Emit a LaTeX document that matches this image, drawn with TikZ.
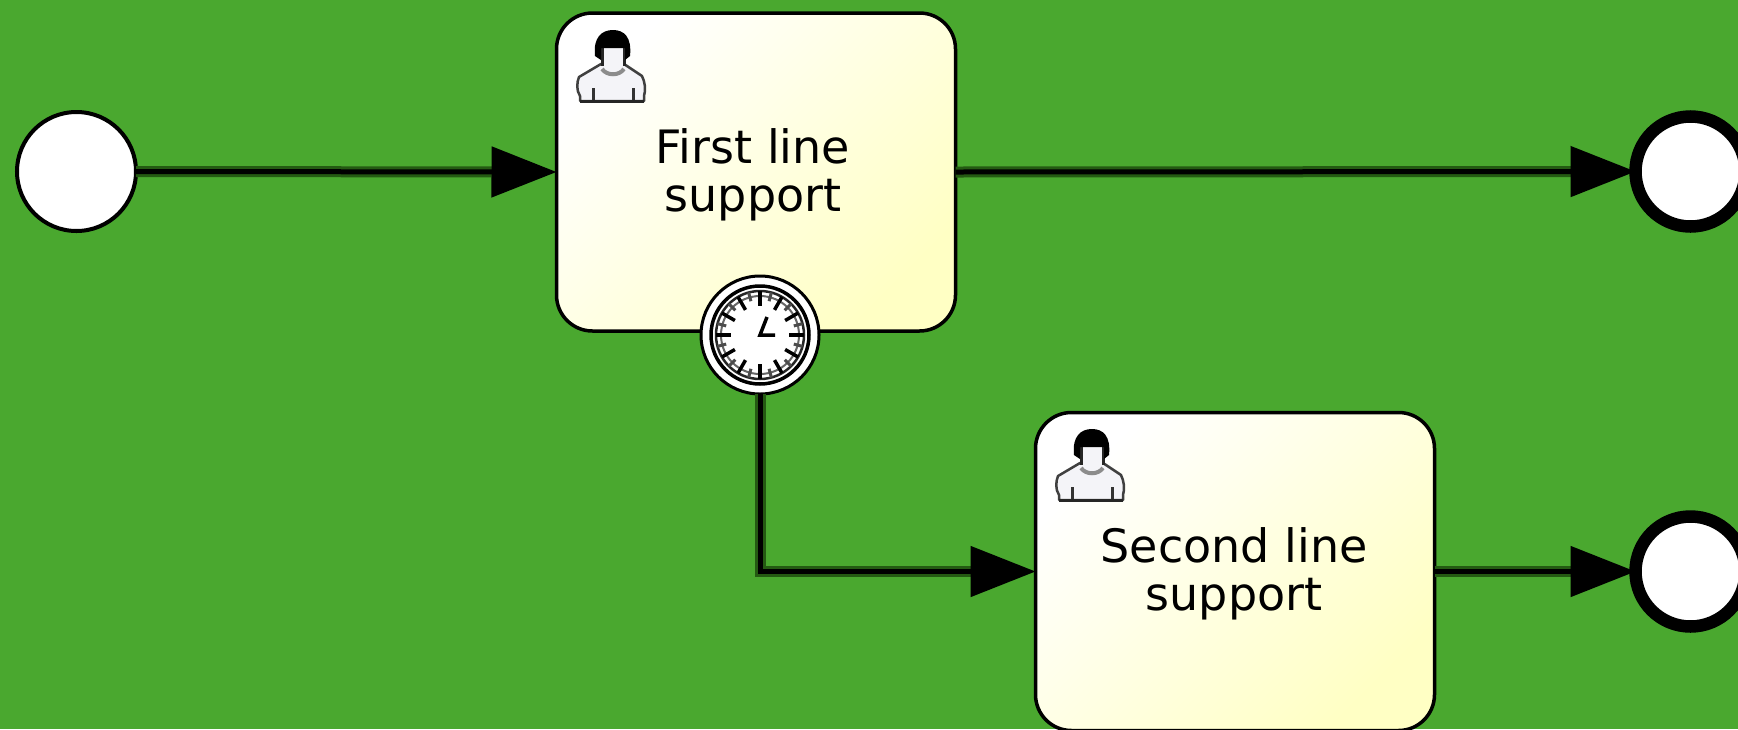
\documentclass[tikz,border=0pt]{standalone}
\usepackage{fontspec}
\setmainfont{DejaVu Sans}
\usetikzlibrary{arrows.meta}
\definecolor{bggreen}{HTML}{4AA82F}
\definecolor{taskyellow}{HTML}{FFFFC4}
\definecolor{iconfill}{HTML}{F4F4F8}
\definecolor{halogreen}{HTML}{245A12}
\tikzset{
  x=1pt,y=-1pt,
  task/.style={draw=black,line width=3.5pt,rounded corners=36pt,minimum width=399pt,minimum height=318pt,inner sep=0pt,outer sep=0pt,left color=white,right color=taskyellow,shading angle=45},
  startev/.style={circle,draw=black,line width=4pt,fill=white,minimum size=119pt,inner sep=0pt,outer sep=0pt},
  endev/.style={circle,draw=black,line width=12.5pt,fill=white,minimum size=110pt,inner sep=0pt,outer sep=0pt},
  timerev/.style={circle,draw=black,line width=3pt,fill=white,minimum size=118pt,inner sep=0pt,outer sep=0pt},
  flow/.style={draw=black,line width=5pt,-{Triangle[length=65pt,width=50pt]},
    preaction={draw=halogreen,line width=11pt,-,shorten >=40pt}},
  tasklabel/.style={font=\fontsize{46pt}{48pt}\selectfont,align=center,text=black,inner sep=0pt},
  pics/person/.style={code={
    \path[draw=black!75,line width=2.5pt,fill=iconfill,line join=round]
      (5,71) -- (5,66) .. controls (1,60) and (2,52) .. (4,47) -- (26,34) -- (49,34) -- (67,46) .. controls (70,52) and (71,60) .. (69,66) -- (69,71) -- cycle;
    \draw[black!80,line width=3pt] (18,58) -- (18,71) (58,58) -- (58,71);
    \fill[iconfill] (27,16) rectangle (49,42);
    \draw[black!85,line width=3pt] (27,18) -- (27,36) (49,18) -- (49,36);
    \draw[black!45,line width=4pt] (27,39) .. controls (32,46) and (44,46) .. (49,39);
    \fill[black] (20,26) .. controls (18,7) and (27,0) .. (38,0) .. controls (49,0) and (57,7) .. (55,26) -- (50,30) -- (50,18) -- (26,18) -- (26,30) -- cycle;
    \draw[black!85,line width=3pt] (5,71) -- (69,71);
  }}
}
\begin{document}
\begin{tikzpicture}
\useasboundingbox[fill=bggreen] (0,0) rectangle (1738,729);
\clip (0,0) rectangle (1738,729);
% events and tasks
\node[startev] (start) at (76.5,171.5) {};
\node[task] (first) at (756,172) {};
\node[task] (second) at (1235,571.5) {};
\node[endev] (endone) at (1690.5,171.5) {};
\node[endev] (endtwo) at (1690.5,571.5) {};
% labels
\node[tasklabel] (firstlabel) at (753,175) {First line\\support};
\node[tasklabel] (secondlabel) at (1234,574) {Second line\\support};
% icons
\pic at (575,30) {person};
\pic at (1054,429) {person};
% timer
\node[timerev] (timer) at (760,335) {};
\draw[black,line width=3.5pt] (timer.center) circle[radius=49];
\draw[black!85,line width=2.5pt] (timer.center) circle[radius=44];
\draw[black!60,line width=2pt] (timer.center) circle[radius=39];
\foreach \a in {0,30,...,330}{
  \draw[black,line width=3.5pt] (timer.center) ++(\a:44) -- ++(\a+180:15);
}
\foreach \a in {15,45,...,345}{
  \draw[black!70,line width=3pt] (timer.center) ++(\a:44) -- ++(\a+180:9);
}
\draw[black,line width=3.5pt] (767,317) -- (timer.center) -- (775,335);
% flows
\draw[flow] (start.east) -- (first.west);
\draw[flow] (first.east) -- (endone.west);
\draw[flow] (timer.south) |- (second.west);
\draw[flow] (second.east) -- (endtwo.west);
\end{tikzpicture}
\end{document}
